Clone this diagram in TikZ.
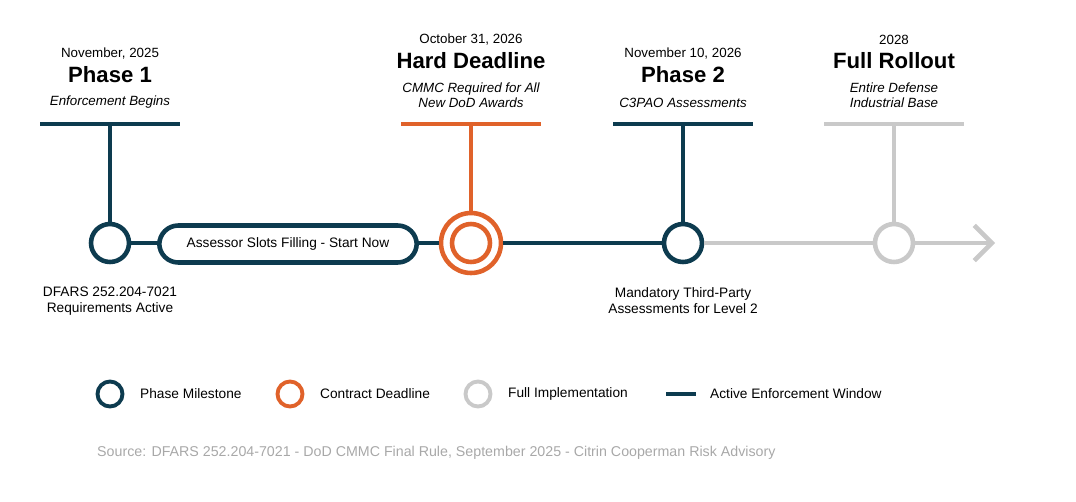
\documentclass[tikz,border=0pt]{standalone}
\usepackage{fontspec}
\setmainfont{Liberation Sans}
\usetikzlibrary{arrows.meta}
\definecolor{navy}{HTML}{0D3B4F}
\definecolor{rust}{HTML}{E0622A}
\definecolor{pale}{HTML}{C9C9C9}
\definecolor{srcgray}{HTML}{A8A8A8}
\begin{document}
\begin{tikzpicture}[x=0.02cm,y=-0.02cm,
    datetxt/.style={font=\fontsize{7.6}{9}\selectfont},
    headtxt/.style={font=\fontsize{12.6}{14}\selectfont\bfseries},
    subtxt/.style={font=\fontsize{7.6}{8.6}\selectfont\itshape,align=center},
    notetxt/.style={font=\fontsize{7.8}{9.2}\selectfont,align=center},
    milestone/.style={circle,draw=#1,line width=2.6pt,inner sep=0pt,fill=white},
    keydot/.style={circle,draw=#1,line width=2.2pt,minimum size=0.5cm,inner sep=0pt}]
\useasboundingbox (0,0) rectangle (1076,501);
% timeline
\coordinate (tend) at (995,243);
\node[milestone=navy,minimum size=0.76cm] (m1) at (110,243) {};
\node[milestone=rust,minimum size=0.76cm] (m2) at (471,243) {};
\node[circle,draw=rust,line width=2.6pt,minimum size=1.2cm] (m2o) at (471,243) {};
\node[milestone=navy,minimum size=0.76cm] (m3) at (683,243) {};
\node[milestone=pale,minimum size=0.76cm] (m4) at (894,243) {};
\draw[pale,line width=2.6pt,-{Straight Barb[length=10pt,width=20pt]}] (m3) -- (m4) -- (tend);
\draw[navy,line width=2.6pt] (m1) -- (m2o) (m2o) -- (m3);
\node[draw=navy,line width=2.6pt,rounded corners=0.38cm,fill=white,minimum width=5.15cm,minimum height=0.74cm,notetxt] (pill) at (288,244) {Assessor Slots Filling - Start Now};
% columns
\foreach \n/\x/\t/\c/\d/\h/\s in {1/110/0/navy/{November, 2025}/Phase 1/Enforcement Begins,
    2/471/14/rust/{October 31, 2026}/Hard Deadline/{CMMC Required for All\\New DoD Awards},
    3/683/0/navy/{November 10, 2026}/Phase 2/C3PAO Assessments,
    4/894/14/pale/2028/Full Rollout/{Entire Defense\\Industrial Base}} {
  \node[datetxt] (d\n) at (\x,54-\t) {\d};
  \node[headtxt] (h\n) at (\x,75-\t) {\h};
  \node[subtxt,anchor=south] (s\n) at (\x,114) {\s};
  \coordinate (bl\n) at (\x-70,124);
  \coordinate (br\n) at (\x+70,124);
  \coordinate (bm\n) at (\x,124);
  \draw[\c,line width=2.6pt] (bl\n) -- (br\n);
}
\draw[navy,line width=2.6pt] (bm1) -- (m1);
\draw[rust,line width=2.6pt] (bm2) -- (m2o);
\draw[navy,line width=2.6pt] (bm3) -- (m3);
\draw[pale,line width=2.6pt] (bm4) -- (m4);
\node[notetxt] (n1) at (110,301) {DFARS 252.204-7021\\Requirements Active};
\node[notetxt] (n3) at (683,301) {Mandatory Third-Party\\Assessments for Level 2};
% legend
\node[keydot=navy] (k1) at (110,394) {};
\node[notetxt,anchor=west] (l1) at (134,394) {Phase Milestone};
\node[keydot=rust] (k2) at (290,394) {};
\node[notetxt,anchor=west] (l2) at (314,394) {Contract Deadline};
\node[keydot=pale] (k3) at (478,394) {};
\node[notetxt,anchor=west] (l3) at (502,394) {Full Implementation};
\coordinate (k4a) at (666,394);
\coordinate (k4b) at (696,394);
\draw[navy,line width=2.6pt] (k4a) -- (k4b);
\node[notetxt,anchor=west] (l4) at (704,394) {Active Enforcement Window};
\node[notetxt,font=\fontsize{8.1}{9.2}\selectfont,text=srcgray,anchor=west] (src) at (91,453) {Source: DFARS 252.204-7021 - DoD CMMC Final Rule, September 2025 - Citrin Cooperman Risk Advisory};
\end{tikzpicture}
\end{document}
